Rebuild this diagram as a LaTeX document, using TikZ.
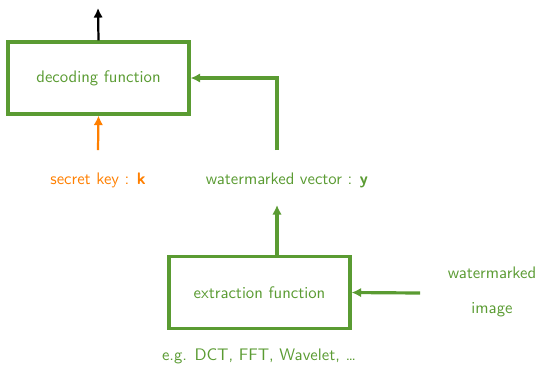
\documentclass[tikz,border=0pt]{standalone}
\usetikzlibrary{arrows.meta,positioning}
\definecolor{wmgreen}{HTML}{5A9B32}
\definecolor{keyorange}{HTML}{FF7F00}
\begin{document}
\begin{tikzpicture}[
  x=0.0221cm, y=-0.0221cm,
  font=\sffamily\fontsize{10.5pt}{12.6pt}\selectfont,
  box/.style={draw=wmgreen, line width=2pt, minimum width=4cm,
              minimum height=1.59cm, text=wmgreen},
  flow/.style={-{Latex[length=6pt,width=6pt]}, line width=2pt, draw=wmgreen},
  lbl/.style={text=wmgreen, inner sep=0pt},
]
\useasboundingbox (0,0) rectangle (539,366);

\node[box] (decode)  at (98.5,78)   {decoding function};
\node[box] (extract) at (259.5,292.5) {extraction function};

\node[lbl, text=keyorange] (key) at (98,180) {secret key : \textbf{k}};
\node[lbl] (vector) at (287,180) {watermarked vector : \textbf{y}};
\node[lbl, align=center] (image) at (492,292) {watermarked\\[9pt]image};
\node[lbl] (examples) at (259,356) {e.g. DCT, FFT, Wavelet, \dots};

\coordinate (out)   at (98,8);
\coordinate (vtop)  at (277,150);
\coordinate (vbot)  at (277,205);
\coordinate (imgin) at (420,293);

\draw[-{Latex[length=6pt,width=6pt]}, line width=1.4pt] (decode.north) -- (out);
\draw[flow, draw=keyorange, line width=1.4pt] (key.north) ++(0,-22) -- (decode.south);
\draw[flow] (vtop) |- (decode.east);
\draw[flow] (extract.north -| vbot) -- (vbot);
\draw[flow] (imgin) -- (extract.east);

\end{tikzpicture}
\end{document}
